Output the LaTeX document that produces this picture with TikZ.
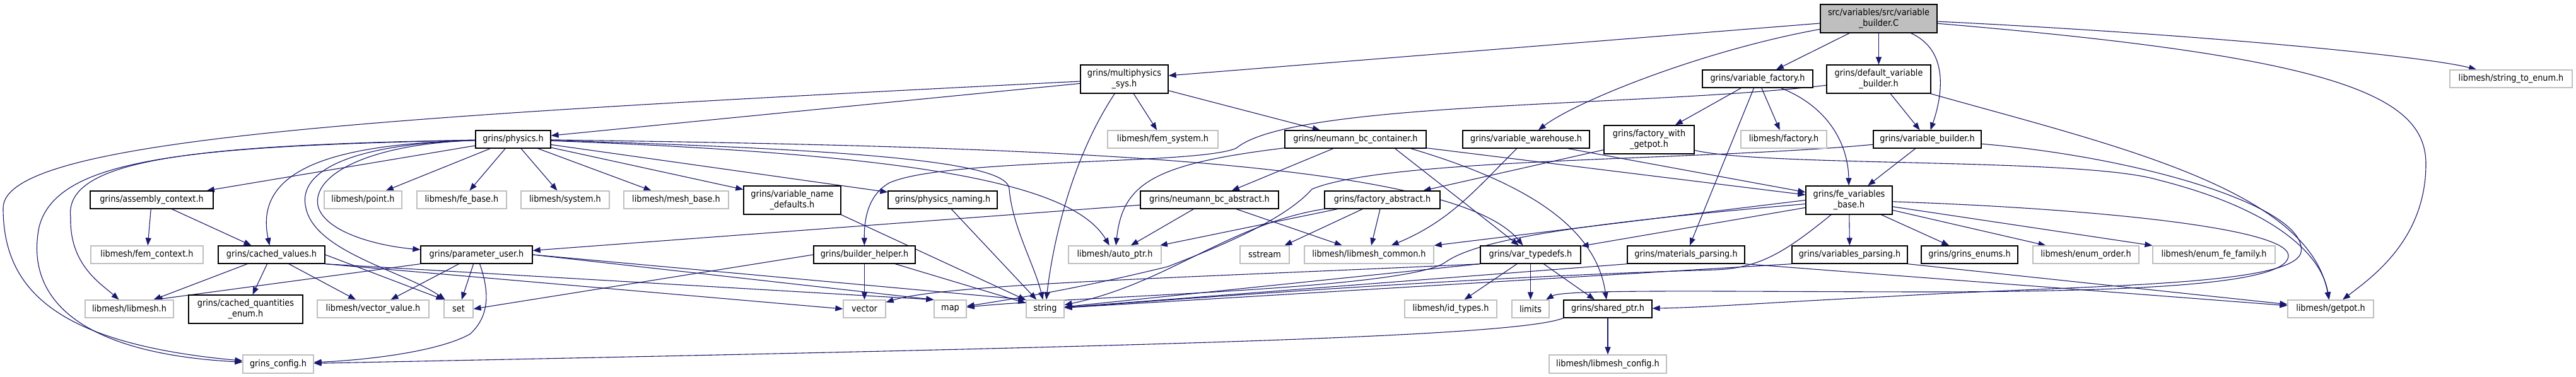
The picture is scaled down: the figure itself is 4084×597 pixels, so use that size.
\documentclass[tikz,border=0pt]{standalone}
\usepackage{fontspec}
\setmainfont{DejaVu Sans Condensed}
\usetikzlibrary{arrows.meta}
\pgfdeclarelayer{bg}
\pgfsetlayers{bg,main}
\definecolor{edgec}{HTML}{191970}
\definecolor{extgray}{HTML}{BFBFBF}
\newcommand\dfont{\fontsize{14.3}{17}\selectfont}
\begin{document}
\begin{tikzpicture}[x=1pt,y=-1pt,
 box/.style={rectangle, line width=1.3pt, inner sep=0pt, minimum height=28pt, align=center, font=\dfont, fill=white},
 doc/.style={box, draw=black},
 ext/.style={box, draw=extgray},
 rootbox/.style={box, draw=black, fill=extgray},
 tall/.style={minimum height=45pt},
 edge/.style={draw=edgec, line width=1.1pt, -{Triangle[length=12pt,width=9pt]}},
]
\useasboundingbox (0,0) rectangle (4084,597);
% row 0
\node[rootbox, tall, minimum width=185pt] (root) at (2978.5,29.5) {src/variables/src/variable\\\_builder.C};
% row 1
\node[doc, tall, minimum width=139pt] (multi) at (1782.5,125.5) {grins/multiphysics\\\_sys.h};
\node[doc, minimum width=175pt] (vfactory) at (2786.5,125) {grins/variable\_factory.h};
\node[doc, tall, minimum width=165pt] (dvb) at (2978.5,125.5) {grins/default\_variable\\\_builder.h};
\node[ext, minimum width=194pt] (s2e) at (3981,125) {libmesh/string\_to\_enum.h};
% row 2
\node[doc, minimum width=119pt] (physics) at (813.5,221) {grins/physics.h};
\node[ext, minimum width=175pt] (femsys) at (1843.5,221) {libmesh/fem\_system.h};
\node[doc, minimum width=224pt] (nbccont) at (2149,221) {grins/neumann\_bc\_container.h};
\node[doc, minimum width=201pt] (warehouse) at (2419.5,221) {grins/variable\_warehouse.h};
\node[doc, tall, minimum width=143pt] (fwg) at (2614.5,221.5) {grins/factory\_with\\\_getpot.h};
\node[ext, minimum width=136pt] (factory) at (2828,221) {libmesh/factory.h};
\node[doc, minimum width=171pt] (vbuilder) at (3055.5,221) {grins/variable\_builder.h};
% row 3
\node[doc, minimum width=195pt] (assembly) at (240.5,317) {grins/assembly\_context.h};
\node[ext, minimum width=123pt] (point) at (575.5,317) {libmesh/point.h};
\node[ext, minimum width=142pt] (febase) at (732,317) {libmesh/fe\_base.h};
\node[ext, minimum width=140pt] (system) at (896,317) {libmesh/system.h};
\node[ext, minimum width=166pt] (meshbase) at (1072,317) {libmesh/mesh\_base.h};
\node[doc, tall, minimum width=154pt] (vnd) at (1256,317.5) {grins/variable\_name\\\_defaults.h};
\node[doc, minimum width=173pt] (pnaming) at (1494.5,317) {grins/physics\_naming.h};
\node[doc, minimum width=219pt] (nbcabs) at (1917.5,317) {grins/neumann\_bc\_abstract.h};
\node[doc, minimum width=183pt] (factoryabs) at (2191.5,317) {grins/factory\_abstract.h};
\node[doc, tall, minimum width=137pt] (fevb) at (2931.5,317.5) {grins/fe\_variables\\\_base.h};
% row 4
\node[ext, minimum width=178pt] (femcontext) at (233,404) {libmesh/fem\_context.h};
\node[doc, minimum width=169pt] (cached) at (430.5,404) {grins/cached\_values.h};
\node[doc, minimum width=177pt] (paramuser) at (755.5,404) {grins/parameter\_user.h};
\node[doc, minimum width=161pt] (builderhelper) at (1370.5,404) {grins/builder\_helper.h};
\node[ext, minimum width=147pt] (autoptr) at (1767.5,404) {libmesh/auto\_ptr.h};
\node[ext, minimum width=78pt] (nsstream) at (2005,404) {sstream};
\node[ext, minimum width=205pt] (libmeshcommon) at (2170.5,404) {libmesh/libmesh\_common.h};
\node[doc, minimum width=159pt] (vartypedefs) at (2426.5,404) {grins/var\_typedefs.h};
\node[doc, minimum width=186pt] (matparse) at (2673,404) {grins/materials\_parsing.h};
\node[doc, minimum width=183pt] (varsparse) at (2932.5,404) {grins/variables\_parsing.h};
\node[doc, minimum width=153pt] (grinsenums) at (3122.5,404) {grins/grins\_enums.h};
\node[ext, minimum width=168pt] (enumorder) at (3307,404) {libmesh/enum\_order.h};
\node[ext, minimum width=194pt] (enumfefamily) at (3510,404) {libmesh/enum\_fe\_family.h};
% row 5
\node[ext, minimum width=140pt] (libmeshh) at (205,490) {libmesh/libmesh.h};
\node[doc, tall, minimum width=181pt] (cqe) at (389.5,490.5) {grins/cached\_quantities\\\_enum.h};
\node[ext, minimum width=177pt] (vectorvalue) at (591.5,490) {libmesh/vector\_value.h};
\node[ext, minimum width=46pt] (nset) at (727,490) {set};
\node[ext, minimum width=67pt] (nvector) at (1370.5,490) {vector};
\node[ext, minimum width=51pt] (nmap) at (1506.5,490) {map};
\node[ext, minimum width=60pt] (nstring) at (1657,490) {string};
\node[ext, minimum width=146pt] (idtypes) at (2300,490) {libmesh/id\_types.h};
\node[ext, minimum width=59pt] (nlimits) at (2426.5,490) {limits};
\node[doc, minimum width=140pt] (shared) at (2549,490) {grins/shared\_ptr.h};
\node[ext, minimum width=136pt] (getpot) at (3695,490) {libmesh/getpot.h};
% row 6
\node[ext, minimum width=112pt, minimum height=29pt] (config) at (441,577.5) {grins\_config.h};
\node[ext, minimum width=186pt, minimum height=29pt] (libmeshconfig) at (2549,577.5) {libmesh/libmesh\_config.h};

\begin{pgfonlayer}{bg}
\fill[white] (0,0) rectangle (4084,597);
% root
\draw[edge] (root) -- (multi);
\draw[edge] (root) .. controls (2700,80) and (2500,160) .. (warehouse);
\draw[edge] (root) -- (vfactory);
\draw[edge] (root) -- (dvb);
\draw[edge] (root) .. controls (3090,80) and (3080,150) .. (vbuilder);
\draw[edge] (root) .. controls (3500,55) and (3850,90) .. (s2e);
\draw[edge] (root) .. controls (3700,90) and (3846,150) .. (3846,260) .. controls (3846,380) and (3760,440) .. (getpot);
% multiphysics_sys
\draw[edge] (multi) -- (physics);
\draw[edge] (multi) .. controls (600,185) and (5,220) .. (5,330) .. controls (5,460) and (90,545) .. (config);
\draw[edge] (multi) -- (femsys);
\draw[edge] (multi) .. controls (1700,250) and (1670,380) .. (nstring);
\draw[edge] (multi) -- (nbccont);
% physics
\draw[edge] (physics) -- (assembly);
\draw[edge] (physics) -- (point);
\draw[edge] (physics) -- (febase);
\draw[edge] (physics) -- (system);
\draw[edge] (physics) -- (meshbase);
\draw[edge] (physics) -- (vnd);
\draw[edge] (physics) -- (pnaming);
\draw[edge] (physics) .. controls (300,232) and (90,250) .. (62,360) .. controls (40,470) and (120,560) .. (config);
\draw[edge] (physics) .. controls (320,230) and (100,250) .. (112,345) .. controls (110,420) and (160,450) .. (libmeshh);
\draw[edge] (physics) .. controls (550,228) and (400,260) .. (cached);
\draw[edge] (physics) .. controls (560,228) and (470,270) .. (485,330) .. controls (500,400) and (640,430) .. (nset);
\draw[edge] (physics) .. controls (580,228) and (490,280) .. (505,330) .. controls (520,370) and (600,390) .. (paramuser);
\draw[edge] (physics) .. controls (1600,232) and (2300,250) .. (vartypedefs);
\draw[edge] (physics) .. controls (1400,238) and (1600,260) .. (1600,300) .. controls (1605,360) and (1640,420) .. (nstring);
\draw[edge] (physics) .. controls (1450,245) and (1700,290) .. (autoptr);
% assembly / cached
\draw[edge] (assembly) -- (femcontext);
\draw[edge] (assembly) -- (cached);
\draw[edge] (cached) -- (libmeshh);
\draw[edge] (cached) -- (cqe);
\draw[edge] (cached) -- (vectorvalue);
\draw[edge] (cached.east) -- (nset.north west);
\draw[edge] (cached.south east) -- (nvector.west);
\draw[edge] (cached.south east) -- (nmap.north west);
% parameter_user
\draw[edge] (paramuser.south west) -- ([xshift=-30pt]libmeshh.north east);
\draw[edge] (paramuser) -- (vectorvalue);
\draw[edge] (paramuser) -- (nset);
\draw[edge] (paramuser) .. controls (775,460) and (778,500) .. (745,530) .. controls (700,555) and (600,570) .. (config);
\draw[edge] (paramuser.east) -- (nmap.north west);
\draw[edge] (paramuser.east) -- (nstring.north west);
% builder_helper, naming, defaults
\draw[edge] (builderhelper) -- (nvector);
\draw[edge] (builderhelper.west) -- (nset.east);
\draw[edge] (builderhelper) -- (nstring);
\draw[edge] (pnaming) -- (nstring);
\draw[edge] (vnd.south east) -- (nstring);
% neumann
\draw[edge] (nbcabs) -- (paramuser);
\draw[edge] (nbcabs) -- (autoptr);
\draw[edge] (nbcabs) -- (libmeshcommon);
\draw[edge] (nbccont) -- (nbcabs);
\draw[edge] (nbccont) .. controls (1830,260) and (1780,290) .. (autoptr);
\draw[edge] ([xshift=-50pt]nbccont.south east) -- (vartypedefs);
\draw[edge] ([xshift=-25pt]nbccont.south east) .. controls (2420,290) and (2530,360) .. (shared);
\draw[edge] (nbccont) -- (fevb);
% warehouse
\draw[edge] (warehouse) .. controls (2340,300) and (2300,350) .. (libmeshcommon);
\draw[edge] ([xshift=-35pt]warehouse.south east) -- (fevb);
% factory_with_getpot
\draw[edge] (fwg) -- (factoryabs);
\draw[edge] (fwg) .. controls (2800,265) and (3300,250) .. (3420,285) .. controls (3600,330) and (3680,400) .. (getpot);
% variable_factory
\draw[edge] (vfactory) -- (fwg);
\draw[edge] (vfactory) -- (factory);
\draw[edge] (vfactory) .. controls (2900,170) and (2930,230) .. (fevb);
\draw[edge] (vfactory) -- (matparse);
% default_variable_builder
\draw[edge] (dvb) -- (vbuilder);
\draw[edge] (dvb) .. controls (2600,170) and (2050,160) .. (1960,235) .. controls (1900,262) and (1500,250) .. (1410,290) .. controls (1375,310) and (1370,350) .. (builderhelper);
\draw[edge] (dvb) .. controls (3350,230) and (3660,300) .. (getpot);
% variable_builder
\draw[edge] (vbuilder) -- (fevb);
\draw[edge] (vbuilder) .. controls (3400,250) and (3660,330) .. (3648,400) .. controls (3636,455) and (3300,452) .. (3000,470) .. controls (2800,480) and (2700,488) .. (shared);
\draw[edge] (vbuilder) .. controls (2700,255) and (2200,250) .. (2080,300) .. controls (2040,345) and (1950,385) .. (1851,423) .. controls (1700,460) and (1600,475) .. (nmap);
% factory_abstract
\draw[edge] (factoryabs) -- (nsstream);
\draw[edge] (factoryabs) -- (libmeshcommon);
\draw[edge] (factoryabs) -- (autoptr);
\draw[edge] (factoryabs) .. controls (1950,355) and (1850,450) .. (nstring);
% fe_variables_base
\draw[edge] (fevb) -- (varsparse);
\draw[edge] (fevb) -- (grinsenums);
\draw[edge] (fevb) -- (enumorder);
\draw[edge] (fevb) -- (enumfefamily);
\draw[edge] (fevb) -- (vartypedefs);
\draw[edge] (fevb.west) -- (libmeshcommon.north east);
\draw[edge] (fevb) .. controls (2830,400) and (2790,425) .. (2720,428) .. controls (2300,440) and (1800,480) .. (nstring);
\draw[edge] (fevb) .. controls (2500,355) and (2340,380) .. (2290,417) .. controls (2220,460) and (1700,470) .. (nmap);
\draw[edge] (fevb) .. controls (3300,330) and (3625,360) .. (3628,405) .. controls (3630,450) and (3400,462) .. (3077,463) .. controls (2750,463) and (2480,458) .. (nlimits);
% var_typedefs
\draw[edge] (vartypedefs) -- (idtypes);
\draw[edge] (vartypedefs) -- (nlimits);
\draw[edge] (vartypedefs) -- (shared);
\draw[edge] (vartypedefs.south west) .. controls (1900,440) and (1500,450) .. (nvector);
\draw[edge] (vartypedefs.south west) -- (nstring);
% parsing
\draw[edge] (matparse.south west) -- (nstring);
\draw[edge] (matparse.south east) -- (getpot);
\draw[edge] (varsparse.south west) -- (nstring);
\draw[edge] (varsparse.south east) -- (getpot);
% shared_ptr
\draw[edge] (shared) -- (libmeshconfig);
\draw[edge] (shared.south west) .. controls (2400,535) and (1800,550) .. (config);
\end{pgfonlayer}
\end{tikzpicture}
\end{document}
